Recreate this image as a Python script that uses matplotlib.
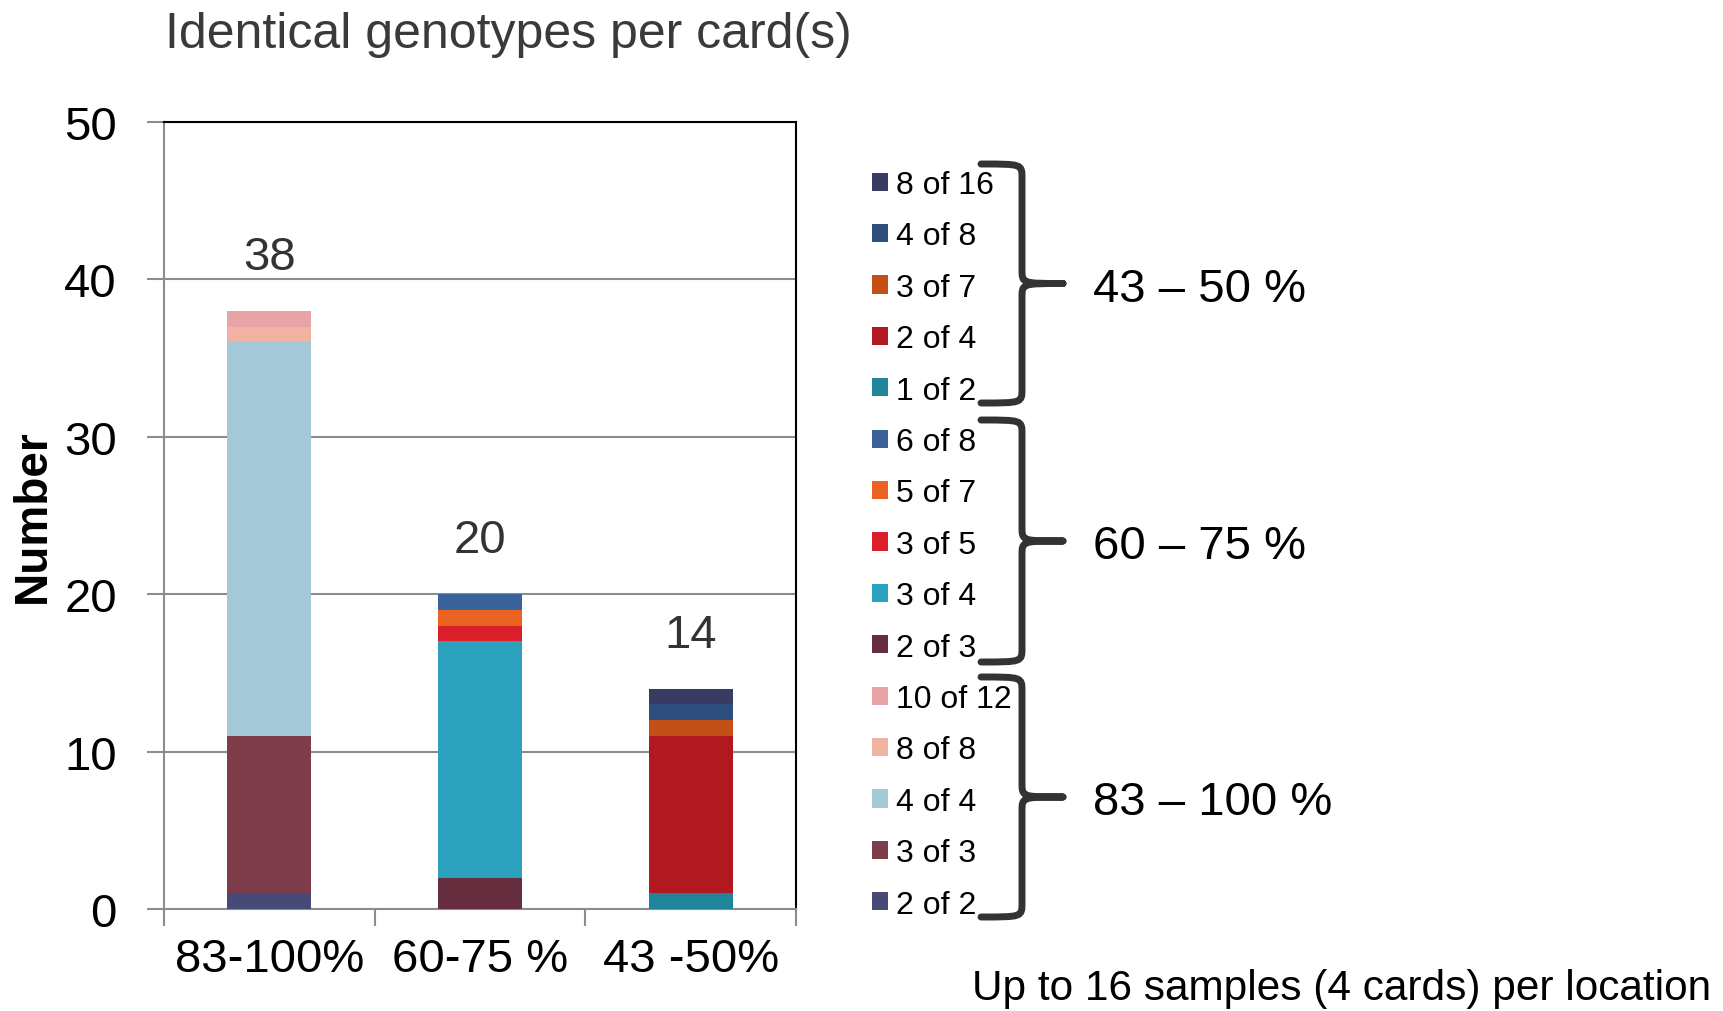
import matplotlib
matplotlib.use("Agg")
import matplotlib.pyplot as plt
from matplotlib.patches import Patch
from matplotlib.path import Path
from matplotlib.patches import PathPatch
import numpy as np

plt.rcParams['font.family'] = ['Liberation Sans', 'DejaVu Sans']

categories = ['83-100%', '60-75 %', '43 -50%']

# stacking order, bottom to top; each series only sits in one bar
labels_83 = ['2 of 2', '3 of 3', '4 of 4', '8 of 8', '10 of 12']
values_83 = [1, 10, 25, 1, 1]
colors_83 = ['#464a76', '#7d3c4a', '#a5c8d8', '#f2b2a2', '#e8a3a6']

labels_60 = ['2 of 3', '3 of 4', '3 of 5', '5 of 7', '6 of 8']
values_60 = [2, 15, 1, 1, 1]
colors_60 = ['#662e3e', '#2ca1be', '#db1f2a', '#ea621f', '#3a639c']

labels_43 = ['1 of 2', '2 of 4', '3 of 7', '4 of 8', '8 of 16']
values_43 = [1, 10, 1, 1, 1]
colors_43 = ['#20849a', '#b21820', '#c25018', '#2e4e7e', '#383b62']

groups = ['43 \u2013 50 %', '60 \u2013 75 %', '83 \u2013 100 %']

fig = plt.figure(figsize=(17.23, 10.12), dpi=100)
ax = fig.add_axes([164/1723, 1-910/1012, (796-164)/1723, (910-123)/1012])

handles = []
totals = []
for i, (labs, vals, cols) in enumerate([(labels_83, values_83, colors_83),
                                        (labels_60, values_60, colors_60),
                                        (labels_43, values_43, colors_43)]):
    bottom = 0
    for lab, v, c in zip(labs, vals, cols):
        ax.bar(i, v, bottom=bottom, width=0.4, color=c, zorder=3)
        handles.append(Patch(facecolor=c, label=lab))
        bottom += v
    totals.append(bottom)

for i, t in enumerate(totals):
    ax.annotate(str(t), (i, t), xytext=(0, 23), textcoords='offset points',
                ha='center', va='bottom', fontsize=34, color='#333333')

ax.set_xlim(-0.5, 2.5)
ax.set_ylim(0, 50)
ax.set_yticks(np.arange(0, 51, 10))
ax.set_xticks(range(3))
ax.set_xticklabels(categories)
ax.set_xticks([-0.5, 0.5, 1.5, 2.5], minor=True)
ax.tick_params(axis='x', which='major', length=0, labelsize=34, pad=20)
ax.tick_params(axis='x', which='minor', length=12, width=1.5, color='#8c8c8c')
ax.tick_params(axis='y', length=12, width=1.5, color='#8c8c8c', labelsize=34, pad=22)
ax.yaxis.grid(True, color='#8c8c8c', lw=1.5)
ax.set_axisbelow(True)
for s in ['left', 'bottom']:
    ax.spines[s].set_color('#8c8c8c')
    ax.spines[s].set_linewidth(1.5)
for s in ['top', 'right']:
    ax.spines[s].set_color('black')
    ax.spines[s].set_linewidth(1.5)

ax.set_ylabel('Number', fontsize=33, fontweight='bold')
ax.yaxis.set_label_coords(-0.172, 0.5)

fig.text(165/1723, 1-35/1012, 'Identical genotypes per card(s)', fontsize=36,
         family=['Liberation Sans Narrow', 'Liberation Sans'], color='#3a3a3a',
         ha='left', va='center')

fig.legend(handles=handles[::-1], loc='upper left', bbox_to_anchor=(872/1723, 1-171/1012),
           frameon=False, fontsize=23, handlelength=0.5, handleheight=0.5,
           handletextpad=0.25, labelspacing=0.67, borderpad=0, borderaxespad=0)

# braces on an overlay in pixel units
ov = fig.add_axes([0, 0, 1, 1])
ov.set_xlim(0, 1723)
ov.set_ylim(1012, 0)
ov.axis('off')

def brace(top, bot, x0=981, sx=1022, tip=1063, r=14):
    mid = (top + bot) / 2
    verts = [(x0, top), (sx, top), (sx, top), (sx, top + r),
             (sx, mid - r),
             (sx, mid), (sx, mid), (tip, mid),
             (sx, mid), (sx, mid), (sx, mid + r),
             (sx, bot - r),
             (sx, bot), (sx, bot), (x0, bot)]
    codes = [Path.MOVETO, Path.CURVE4, Path.CURVE4, Path.CURVE4,
             Path.LINETO,
             Path.CURVE4, Path.CURVE4, Path.CURVE4,
             Path.CURVE4, Path.CURVE4, Path.CURVE4,
             Path.LINETO,
             Path.CURVE4, Path.CURVE4, Path.CURVE4]
    ov.add_patch(PathPatch(Path(verts, codes), fill=False, lw=5,
                           edgecolor='#333333', capstyle='round', joinstyle='round'))
    return mid

for (top, bot), g in zip([(165, 404), (421, 663), (678, 918)], groups):
    m = brace(top, bot)
    ov.text(1093, m + 5, g, fontsize=34, ha='left', va='center')

fig.text(972/1723, 1-989/1012, 'Up to 16 samples (4 cards) per location',
         fontsize=30.5, ha='left', va='center')

fig.savefig('out.png', dpi=100)
